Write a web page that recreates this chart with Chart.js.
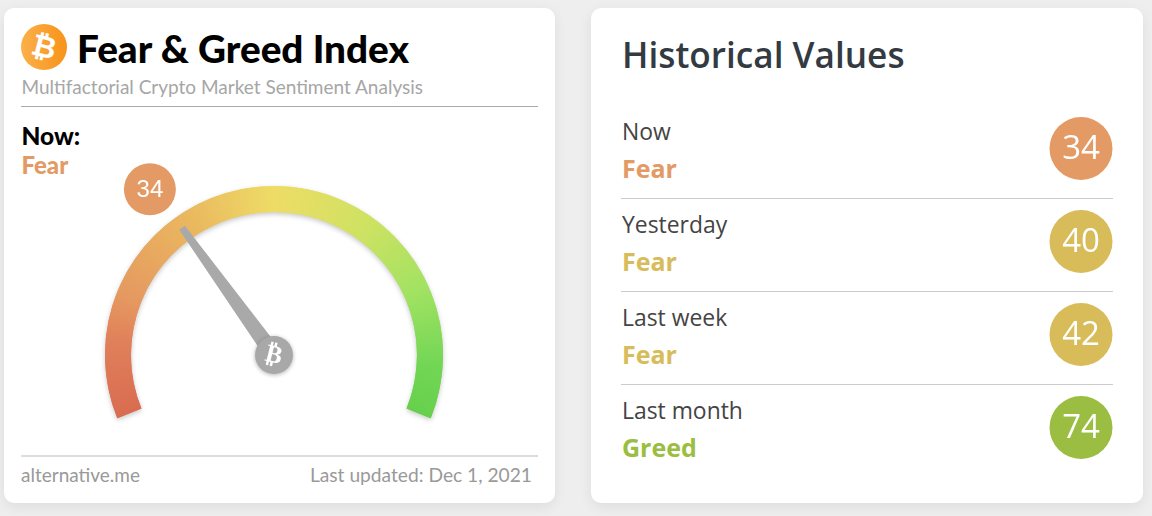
<!DOCTYPE html>
<html>
<head>
<meta charset="utf-8">
<script src="https://cdn.jsdelivr.net/npm/chart.js@4"></script>
<style>
  html, body { margin: 0; height: 100%; background: #eeeeee; overflow: hidden; }
  .card { position: absolute; top: 8px; width: 551px; height: 495px; background: #fff; border-radius: 10px;
    box-shadow: 0 4px 14px rgba(0,0,0,.07); }
  #left { left: 4px; font-family: Lato, sans-serif; }
  #right { left: 591px; width: 552px; font-family: "Open Sans", sans-serif; }
  .abs { position: absolute; white-space: nowrap; line-height: 1; }
  .rule { position: absolute; height: 1px; }
  #logo { position: absolute; left: 17px; top: 16px; width: 46px; height: 46px; border-radius: 50%;
    background: linear-gradient(90deg, #fbb04a, #f7931a); color: #fff; text-align: center; }
  #logo span { display: block; font: bold 30px/46px "DejaVu Sans", sans-serif; transform: rotate(14deg); }
  canvas { position: absolute; }
</style>
</head>
<body>
<div class="card" id="left">
  <div id="logo"><span>₿</span></div>
  <div class="abs" style="left:73px;top:21px;font-size:38.7px;font-weight:900;color:#000">Fear &amp; Greed Index</div>
  <div class="abs" style="left:17.5px;top:69px;font-size:19px;color:#a6a6a6">Multifactorial Crypto Market Sentiment Analysis</div>
  <div class="rule" style="left:17px;top:98px;width:517px;background:#aaa"></div>
  <div class="abs" style="left:17.5px;top:116px;font-size:24.5px;font-weight:900;color:#000">Now:</div>
  <div class="abs" id="nowLabel" style="left:17.5px;top:145px;font-size:24px;font-weight:900"></div>
  <div class="rule" style="left:17px;top:447px;width:517px;height:2px;background:#ddd"></div>
  <div class="abs" style="left:17px;top:457px;font-size:19px;color:#999">alternative.me</div>
  <div class="abs" style="right:23px;top:457px;font-size:19.2px;color:#999">Last updated: Dec 1, 2021</div>
  <canvas id="gauge" style="left:66px;top:142px"></canvas>
</div>
<div class="card" id="right">
  <div class="abs" style="left:31px;top:29px;font-size:35.2px;font-weight:600;color:#333a42">Historical Values</div>
  <div id="rows"></div>
  <canvas id="history" style="left:449px;top:94px"></canvas>
</div>

<script>
// gauge
const gaugeValue = 34;
const gaugeMax = 100;
const gaugeRotation = -112;
const gaugeSweep = 224;
const gaugeStops = [0, 0.12, 0.19, 0.36, 0.5, 0.656, 0.795, 0.92, 1];
const gaugeColors = ['#d96c50', '#e0805a', '#e59860', '#eab85f', '#eedc66', '#cfe262', '#a2e262', '#72d655', '#66d04c'];

// historical values
const historyLabels = ['Now', 'Yesterday', 'Last week', 'Last month'];
const historyValues = [34, 40, 42, 74];
const historyClass = ['Fear', 'Fear', 'Fear', 'Greed'];
const historyColors = ['#e39a65', '#d8bc5a', '#d8bc5a', '#9bbd41'];

document.getElementById('nowLabel').textContent = historyClass[0];
document.getElementById('nowLabel').style.color = historyColors[0];

document.getElementById('rows').innerHTML = historyLabels.map((l, i) => `
  <div class="abs" style="left:31px;top:${113 + i * 93}px;font-size:22.9px;color:#444">${l}</div>
  <div class="abs" style="left:31px;top:${148 + i * 93}px;font-size:25px;font-weight:700;color:${historyColors[i]}">${historyClass[i]}</div>
  ${i < 3 ? `<div class="rule" style="left:30px;top:${190 + i * 93}px;width:492px;background:#ccc"></div>` : ''}`).join('');

const gaugePlugin = {
  id: 'gaugeParts',
  beforeDatasetsDraw(chart) {
    const { ctx } = chart;
    const meta = chart.getDatasetMeta(0);
    const arc = meta.data[0];
    const start = (gaugeRotation - 90) * Math.PI / 180;
    const grad = ctx.createConicGradient(start, arc.x, arc.y);
    gaugeStops.forEach((s, i) => grad.addColorStop(s * gaugeSweep / 360, gaugeColors[i]));
    grad.addColorStop(gaugeSweep / 360 + 0.001, gaugeColors[gaugeColors.length - 1]);
    grad.addColorStop(1, gaugeColors[0]);
    meta.data.forEach((a) => { a.options.backgroundColor = grad; a.options.borderColor = grad; });

    // whole ring underneath: carries the shadow and hides the seam between slices
    ctx.save();
    ctx.shadowColor = 'rgba(0,0,0,.22)';
    ctx.shadowBlur = 5;
    ctx.shadowOffsetY = 2;
    ctx.fillStyle = grad;
    ctx.beginPath();
    ctx.arc(arc.x, arc.y, arc.outerRadius, arc.startAngle, meta.data[1].endAngle);
    ctx.arc(arc.x, arc.y, arc.innerRadius, meta.data[1].endAngle, arc.startAngle, true);
    ctx.closePath();
    ctx.fill();
    ctx.restore();
  },
  afterDatasetsDraw(chart) {
    const { ctx } = chart;
    const arc = chart.getDatasetMeta(0).data[0];
    const cx = arc.x, cy = arc.y;
    const a = arc.endAngle;            // end of the value slice
    const ux = Math.cos(a), uy = Math.sin(a);
    const px = -uy, py = ux;
    const tip = arc.innerRadius + 14;

    // needle
    ctx.save();
    ctx.fillStyle = '#a9a9a9';
    ctx.beginPath();
    ctx.moveTo(cx + ux * tip + px * 3.5, cy + uy * tip + py * 3.5);
    ctx.lineTo(cx + px * 8.5, cy + py * 8.5);
    ctx.lineTo(cx - px * 8.5, cy - py * 8.5);
    ctx.lineTo(cx + ux * tip - px * 3.5, cy + uy * tip - py * 3.5);
    ctx.closePath();
    ctx.fill();
    ctx.restore();

    // pin
    ctx.save();
    ctx.shadowColor = 'rgba(0,0,0,.3)';
    ctx.shadowBlur = 4;
    ctx.shadowOffsetY = 1;
    ctx.fillStyle = '#a8a8a8';
    ctx.beginPath();
    ctx.arc(cx, cy, 19, 0, Math.PI * 2);
    ctx.fill();
    ctx.restore();
    ctx.save();
    ctx.translate(cx, cy);
    ctx.rotate(14 * Math.PI / 180);
    ctx.fillStyle = '#fff';
    ctx.font = 'bold 25px "DejaVu Sans"';
    ctx.textAlign = 'center';
    ctx.textBaseline = 'middle';
    ctx.fillText('₿', 0, 1);
    ctx.restore();

    // value bubble, just past the needle angle
    const ba = a - Math.PI / 180;
    const bx = cx + Math.cos(ba) * 207, by = cy + Math.sin(ba) * 207;
    ctx.fillStyle = historyColors[0];
    ctx.beginPath();
    ctx.arc(bx, by, 26, 0, Math.PI * 2);
    ctx.fill();
    ctx.fillStyle = '#fff';
    ctx.font = '24px "Liberation Sans"';
    ctx.textAlign = 'center';
    ctx.textBaseline = 'middle';
    ctx.fillText(String(gaugeValue), bx, by + 1);
  },
};

const gaugeEl = document.getElementById('gauge');
gaugeEl.width = 408;
gaugeEl.height = 290;
new Chart(gaugeEl, {
  type: 'doughnut',
  data: { datasets: [{ data: [gaugeValue, gaugeMax - gaugeValue], borderWidth: 0 }] },
  options: {
    responsive: false,
    animation: false,
    rotation: gaugeRotation,
    circumference: gaugeSweep,
    cutout: '84.6%',
    layout: { padding: { left: 35, right: 35, top: 36, bottom: 21.7 } },
    plugins: { legend: { display: false }, tooltip: { enabled: false } },
  },
  plugins: [gaugePlugin],
});

const bubbleText = {
  id: 'bubbleText',
  afterDatasetsDraw(chart) {
    const { ctx } = chart;
    ctx.fillStyle = '#fff';
    ctx.font = '33px "Open Sans"';
    ctx.textAlign = 'center';
    ctx.textBaseline = 'middle';
    chart.getDatasetMeta(0).data.forEach((pt, i) => ctx.fillText(String(historyValues[i]), pt.x, pt.y + 1));
  },
};

const historyEl = document.getElementById('history');
historyEl.width = 82;
historyEl.height = 372;
new Chart(historyEl, {
  type: 'line',
  data: {
    datasets: [{
      data: historyLabels.map((l) => ({ x: 'value', y: l })),
      showLine: false,
      pointRadius: 31.5,
      pointBorderWidth: 0,
      pointBackgroundColor: historyColors,
      clip: false,
    }],
  },
  options: {
    responsive: false,
    animation: false,
    layout: { autoPadding: false },
    scales: {
      x: { type: 'category', labels: ['value'], offset: true, display: false },
      y: { type: 'category', labels: historyLabels, offset: true, display: false },
    },
    plugins: { legend: { display: false }, tooltip: { enabled: false } },
  },
  plugins: [bubbleText],
});
</script>
</body>
</html>
